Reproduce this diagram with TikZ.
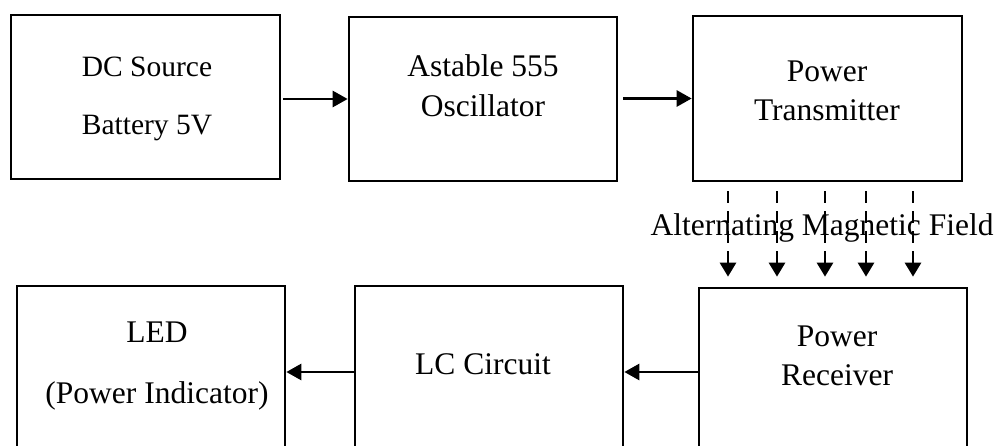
\documentclass[tikz,border=0pt]{standalone}
\usepackage{fontspec}
\setmainfont{Liberation Serif}
\usetikzlibrary{arrows.meta}
\begin{document}
\begin{tikzpicture}[x=1pt,y=-1pt,
  box/.style={draw,line width=2.7pt,minimum width=#1,inner sep=0pt},
  lbl/.style={anchor=base,inner sep=0pt,font=\fontsize{31.5}{36}\selectfont},
  lblsmall/.style={anchor=base,inner sep=0pt,font=\fontsize{29.5}{34}\selectfont},
  arr/.style={line width=2.8pt,-{Triangle[length=15pt,width=16pt]}},
  magarr/.style={line width=2.8pt,dash pattern=on 12pt off 8pt,-{Triangle[length=14pt,width=16pt]},shorten <=9pt,shorten >=10pt}]
\useasboundingbox (0,0) rectangle (1008,446);
\clip (0,0) rectangle (1008,446);
% top row
\node[box=269pt,minimum height=164pt] (b1) at (145.5,97) {};
\node[box=268pt,minimum height=164pt] (b2) at (483,99) {};
\node[box=269pt,minimum height=165pt] (b3) at (827.5,98.5) {};
% bottom row (boxes run off the bottom edge)
\node[box=268pt,minimum height=172pt] (b4) at (151,372) {};
\node[box=268pt,minimum height=172pt] (b5) at (489,372) {};
\node[box=268pt,minimum height=168pt] (b6) at (833,372) {};
% texts
\node[lblsmall] (t1a) at (147,77) {DC Source};
\node[lblsmall] (t1b) at (147,135) {Battery 5V};
\node[lbl] (t2a) at (483,77) {Astable 555};
\node[lbl] (t2b) at (483,117) {Oscillator};
\node[lbl] (t3a) at (827,82) {Power};
\node[lbl] (t3b) at (827,121) {Transmitter};
\node[lbl] (t4a) at (157,342) {LED};
\node[lbl] (t4b) at (157,403) {(Power Indicator)};
\node[lbl] (t5) at (483,374) {LC Circuit};
\node[lbl] (t6a) at (837,346) {Power};
\node[lbl] (t6b) at (837,385) {Receiver};
\node[lbl] (mag) at (822,236) {Alternating Magnetic Field};
% connectors
\draw[arr,shorten <=2pt] (b1.east |- b2.west) -- (b2.west);
\draw[arr,shorten <=5pt] (b2.east |- b3.west) -- (b3.west);
\draw[arr] (b6.west) -- (b5.east);
\draw[arr] (b5.west) -- (b4.east);
\foreach \dx in {-99.5,-50.5,-2.5,38.5,85.5}{
  \draw[magarr] ([xshift=\dx pt]b3.south) -- ([xshift=\dx pt]b3.south |- b6.north);
}
\end{tikzpicture}
\end{document}
